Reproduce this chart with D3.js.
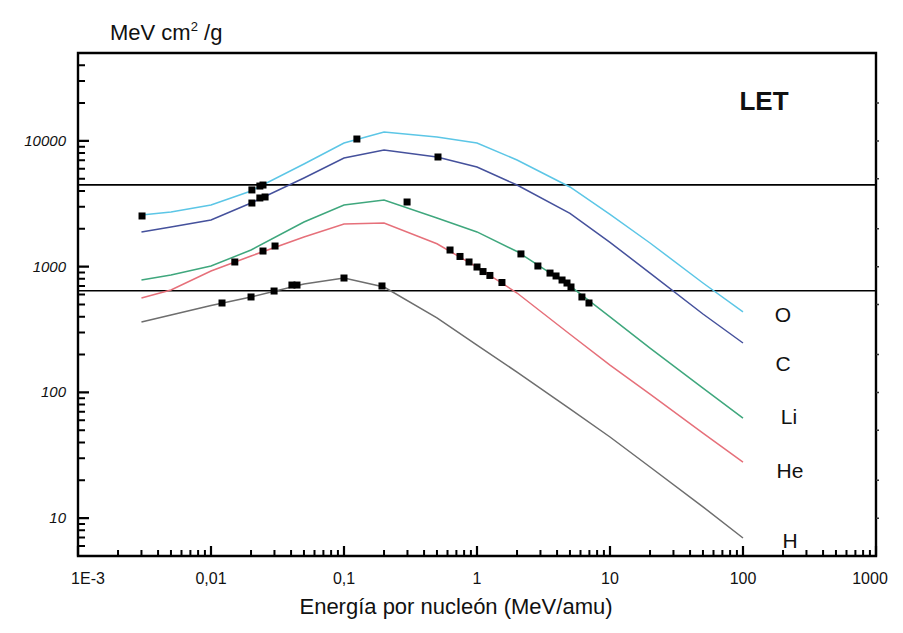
<!DOCTYPE html>
<html>
<head>
<meta charset="utf-8">
<script src="https://cdn.jsdelivr.net/npm/d3@7"></script>
<style>
body { margin: 0; background: #fff; }
svg text { font-family: "Liberation Sans", Arial, sans-serif; fill: #111; }
.curve { fill: none; stroke-width: 1.5; }
</style>
</head>
<body>
<div id="diagram"></div>
<script>
// energy knots (MeV/amu) shared by all curves
var energies = [0.003, 0.005, 0.01, 0.02, 0.05, 0.1, 0.2, 0.5, 1, 2, 5, 10, 20, 50, 100];

// LET values (MeV cm2/g)
var letO  = [2576, 2722, 3090, 3999, 6546, 9616, 11776, 10740, 9616, 7047, 4300, 2600, 1542, 741, 436];
var letC  = [1888, 2070, 2350, 3206, 5070, 7311, 8472, 7447, 6194, 4457, 2650, 1560, 889, 420, 247];
var letLi = [783, 859, 1012, 1356, 2265, 3090, 3388, 2438, 1888, 1320, 702, 398, 225, 108, 62.5];
var letHe = [564, 652, 923, 1216, 1722, 2183, 2223, 1520, 993, 617, 290, 165, 97, 47.5, 27.9];
var letH  = [363, 413, 490, 574, 728, 812, 689, 391, 238, 145, 73.8, 44.2, 25.5, 12.3, 6.95];

var seriesNames  = ["O", "C", "Li", "He", "H"];
var seriesColors = ["#5cc6e6", "#45519c", "#3fa77d", "#e6707a", "#6e6e6e"];

// measured points (black squares)
var markE = [0.00303, 0.0203, 0.0233, 0.0246, 0.125,
             0.0203, 0.0233, 0.0255, 0.509,
             0.298, 2.14, 2.87, 3.54, 3.93, 4.36, 4.75, 5.09, 6.15, 6.95,
             0.0151, 0.0246, 0.0303, 0.627, 0.745, 0.871, 1.0, 1.11, 1.25, 1.54,
             0.0121, 0.02, 0.0298, 0.0406, 0.0443, 0.1, 0.193];
var markL = [2529, 4074, 4375, 4457, 10350,
             3206, 3516, 3581, 7447,
             3266, 1262, 1012, 889, 843, 783, 741, 689, 574, 514,
             1089, 1331, 1459, 1356, 1205, 1089, 993, 914, 851, 748,
             514, 574, 640, 714, 714, 812, 702];

// horizontal reference lines
var refLines = [4470, 644];

var xTickValues = [0.001, 0.01, 0.1, 1, 10, 100, 1000];
var xTickLabels = ["1E-3", "0,01", "0,1", "1", "10", "100", "1000"];
var yTickValues = [10, 100, 1000, 10000];
var yTickLabels = ["10", "100", "1000", "10000"];

var width = 903, height = 633;
var margin = {top: 53, right: 27, bottom: 77, left: 78};

var svg = d3.select("#diagram").append("svg")
    .attr("width", width)
    .attr("height", height);

var x = d3.scaleLog().domain([0.001, 1000]).range([margin.left, width - margin.right]);
var y = d3.scaleLog().domain([5, 50000]).range([height - margin.bottom, margin.top]);

var x0 = x.range()[0], x1 = x.range()[1];
var yb = y.range()[0], yt = y.range()[1];

// minor ticks for each decade
function minorTicks(lo, hi) {
    var out = [];
    for (var p = lo; p < hi; p++) {
        for (var k = 2; k <= 9; k++) out.push(k * Math.pow(10, p));
    }
    return out;
}
var xMinor = minorTicks(-3, 3);
var yMinor = minorTicks(0, 5).filter(function(v) { return v >= 5 && v <= 50000; });

// frame box
svg.append("path")
    .attr("d", "M" + x0 + "," + yt + "H" + x1 + "V" + yb + "H" + x0 + "Z")
    .attr("fill", "none").attr("stroke", "#000").attr("stroke-width", 2.4);

// ticks as one path each: x ticks point up, y ticks point right
function tickPath(vals, len, horiz) {
    return vals.map(function(v) {
        return horiz ? ("M" + x0 + "," + y(v) + "h" + len)
                     : ("M" + x(v) + "," + yb + "v" + (-len));
    }).join("");
}
var rightTicks = yTickValues.concat([20, 50, 200, 500, 2000, 5000, 20000]);
svg.append("path").attr("d", tickPath(xMinor, 6, false))
    .attr("fill", "none").attr("stroke", "#000").attr("stroke-width", 2);
svg.append("path").attr("d", tickPath(xTickValues, 10, false))
    .attr("fill", "none").attr("stroke", "#000").attr("stroke-width", 2.2);
svg.append("path").attr("d", tickPath(yMinor, 7, true))
    .attr("fill", "none").attr("stroke", "#000").attr("stroke-width", 2);
svg.append("path").attr("d", tickPath(yTickValues, 11, true))
    .attr("fill", "none").attr("stroke", "#000").attr("stroke-width", 2.2);
svg.append("path")
    .attr("d", rightTicks.map(function(v) { return "M" + x1 + "," + y(v) + "h3"; }).join(""))
    .attr("fill", "none").attr("stroke", "#333").attr("stroke-width", 1.5);

// tick labels
svg.selectAll(".xlab").data(xTickValues).enter().append("text")
    .attr("x", function(d, i) { return x(d) + (i == 0 ? 10 : (i == xTickValues.length - 1 ? -6 : 0)); })
    .attr("y", 584)
    .attr("text-anchor", "middle")
    .style("font-size", "16px")
    .text(function(d, i) { return xTickLabels[i]; });

svg.selectAll(".ylab").data(yTickValues).enter().append("text")
    .attr("x", 66)
    .attr("y", function(d) { return y(d) + 5; })
    .attr("text-anchor", "end")
    .style("font-size", "15px")
    .style("font-style", "italic")
    .text(function(d, i) { return yTickLabels[i]; });

// reference lines
svg.selectAll(".ref").data(refLines).enter().append("line")
    .attr("x1", x0).attr("x2", x1)
    .attr("y1", function(d) { return y(d); }).attr("y2", function(d) { return y(d); })
    .attr("stroke", "#000").attr("stroke-width", 1.6);

// curves
var allSeries = [letO, letC, letLi, letHe, letH];
var draw_line = d3.line()
    .x(function(d) { return x(d[0]); })
    .y(function(d) { return y(d[1]); });

svg.selectAll(".curve").data(allSeries).enter().append("path")
    .attr("class", "curve")
    .attr("d", function(d) { return draw_line(d3.zip(energies, d)); })
    .attr("stroke", function(_, i) { return seriesColors[i]; });

// markers
svg.selectAll(".mark").data(d3.zip(markE, markL)).enter().append("rect")
    .attr("x", function(d) { return x(d[0]) - 3.5; })
    .attr("y", function(d) { return y(d[1]) - 3.5; })
    .attr("width", 7).attr("height", 7)
    .attr("fill", "#000");

// series labels at the right
var labelPos = [[783, 322], [783, 371], [789, 424], [790, 478], [790, 548]];
svg.selectAll(".slab").data(seriesNames).enter().append("text")
    .attr("x", function(d, i) { return labelPos[i][0]; })
    .attr("y", function(d, i) { return labelPos[i][1]; })
    .attr("text-anchor", "middle")
    .style("font-size", "21px")
    .text(function(d) { return d; });

svg.append("text")
    .attr("x", 764).attr("y", 110)
    .attr("text-anchor", "middle")
    .style("font-size", "26px").style("font-weight", "bold")
    .text("LET");

// axis titles
var ytitle = svg.append("text")
    .attr("x", 110).attr("y", 40)
    .style("font-size", "22px");
ytitle.append("tspan").text("MeV cm");
ytitle.append("tspan").attr("dy", -9).style("font-size", "13px").text("2");
ytitle.append("tspan").attr("dy", 9).text(" /g");

svg.append("text")
    .attr("x", 456).attr("y", 614)
    .attr("text-anchor", "middle")
    .style("font-size", "22px")
    .text("Energía por nucleón (MeV/amu)");
</script>
</body>
</html>
